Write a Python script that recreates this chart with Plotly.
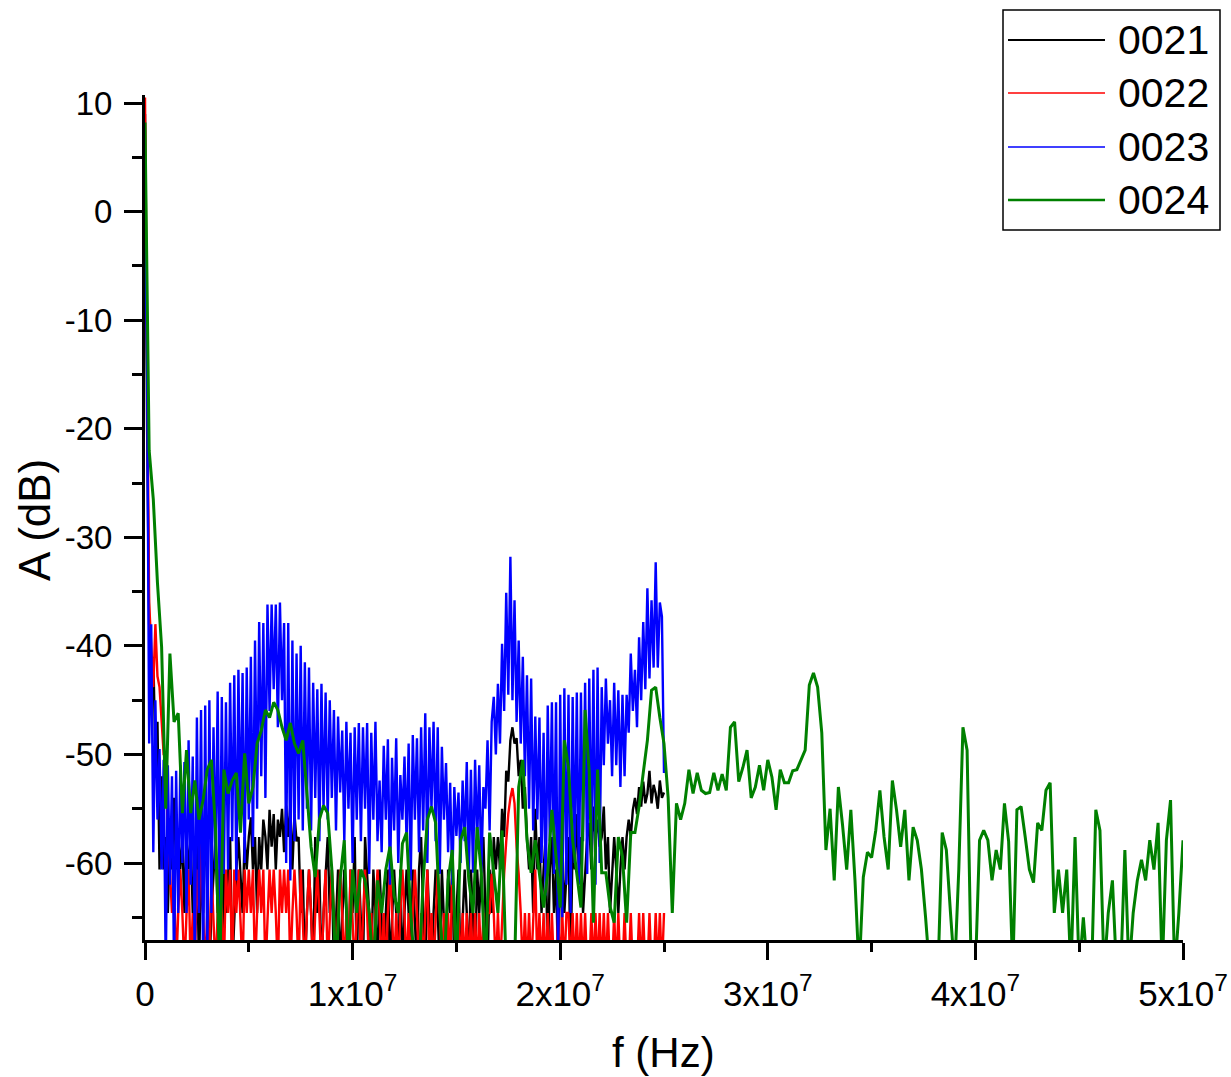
import plotly.graph_objects as go

# ---------------- data ----------------
series_names = ["0021", "0022", "0023", "0024"]
series_colors = ["#000000", "#ff0000", "#0000ff", "#008000"]

step_fine = 1e5     # Hz, spacing of 0021..0023
step_green = 2e5    # Hz, spacing of 0024

a0021 = [
    9.0, -20.0, -38.0, -45.0, -41.0, -50.0, -47.0, -60.6, -52.0, -60.6,
    -57.6, -64.6, -57.6, -60.6, -54.0, -60.6, -57.6, -60.6, -57.6, -64.6,
    -57.6, -60.6, -57.6, -64.6, -60.6, -57.6, -70, -60.6, -64.6, -57.6,
    -60.6, -70, -64.6, -60.6, -57.6, -64.6, -60.6, -70, -60.6, -64.6,
    -60.6, -57.6, -70, -64.6, -60.6, -57.6, -60.6, -64.6, -57.6, -60.6,
    -57.6, -55.8, -60.6, -57.6, -64.6, -57.6, -60.6, -56.0, -57.6, -60.6,
    -55.1, -58.5, -55.5, -60.6, -56.0, -57.6, -55.0, -59.0, -54.7, -57.6,
    -54.7, -60.6, -55.5, -58.0, -57.6, -64.6, -60.6, -70, -64.6, -60.6,
    -64.6, -70, -57.6, -64.6, -60.6, -70, -64.6, -60.6, -57.6, -64.6,
    -60.6, -70, -64.6, -60.6, -70, -64.6, -60.6, -64.6, -70, -60.6,
    -64.6, -57.6, -70, -60.6, -64.6, -70, -57.6, -60.6, -64.6, -70,
    -60.6, -64.6, -70, -60.6, -64.6, -70, -64.6, -60.6, -70, -64.6,
    -60.6, -64.6, -70, -60.6, -70, -64.6, -60.6, -64.6, -70, -60.6,
    -64.6, -70, -60.6, -57.6, -64.6, -70, -60.6, -64.6, -70, -64.6,
    -60.6, -64.6, -70, -60.6, -64.6, -70, -60.6, -64.6, -60.6, -70,
    -64.6, -60.6, -70, -64.6, -60.6, -64.6, -70, -60.6, -64.6, -70,
    -60.6, -64.6, -60.6, -57.6, -64.6, -70, -60.6, -64.6, -57.6, -60.6,
    -57.6, -60.6, -55.0, -57.6, -51.5, -52.5, -48.7, -47.5, -49.0, -48.5,
    -52.0, -50.5, -55.0, -53.0, -57.6, -60.6, -57.6, -64.6, -55.0, -60.6,
    -57.6, -64.6, -60.6, -57.6, -70, -60.6, -57.6, -64.6, -60.6, -70,
    -60.6, -57.6, -64.6, -60.6, -57.6, -70, -57.6, -60.6, -55.5, -60.6,
    -57.6, -64.6, -60.6, -57.6, -56.3, -60.6, -54.8, -57.6, -56.0, -58.5,
    -57.6, -54.8, -60.6, -57.6, -64.6, -60.6, -57.6, -60.6, -64.6, -60.6,
    -57.6, -60.6, -57.6, -56.0, -57.6, -55.1, -54.0, -55.5, -53.0, -54.8,
    -52.5, -54.5, -53.6, -51.5, -54.5, -52.8, -53.6, -55.0, -52.4, -54.0, -53.5,
]

a0022 = [
    10.5, -14.0, -36.0, -40.0, -43.8, -38.0, -42.8, -43.8, -47.0, -50.0,
    -50.2, -57.6, -60.6, -64.6, -60.6, -70, -64.6, -60.6, -64.6, -70,
    -64.6, -60.6, -70, -64.6, -70, -60.6, -64.6, -57.6, -64.6, -70,
    -64.6, -70, -60.6, -64.6, -70, -64.6, -60.6, -64.6, -70, -60.6,
    -64.6, -60.6, -70, -60.6, -64.6, -60.6, -64.6, -70, -60.6, -64.6,
    -60.6, -64.6, -60.6, -70, -64.6, -60.6, -64.6, -60.6, -70, -64.6,
    -60.6, -64.6, -60.6, -64.6, -70, -60.6, -64.6, -60.6, -64.6, -60.6,
    -70, -64.6, -60.6, -64.6, -70, -60.6, -64.6, -70, -64.6, -60.6,
    -64.6, -70, -64.6, -60.6, -64.6, -70, -64.6, -60.6, -70, -64.6,
    -60.6, -64.6, -70, -64.6, -60.6, -64.6, -70, -64.6, -70, -60.6,
    -64.6, -70, -64.6, -60.6, -70, -64.6, -60.6, -64.6, -70, -64.6,
    -70, -64.6, -60.6, -64.6, -70, -64.6, -70, -64.6, -60.6, -64.6,
    -70, -64.6, -70, -64.6, -60.6, -64.6, -70, -64.6, -70, -64.6,
    -60.6, -64.6, -70, -64.6, -70, -64.6, -60.6, -70, -64.6, -70,
    -64.6, -60.6, -64.6, -70, -64.6, -70, -64.6, -70, -60.6, -64.6,
    -70, -64.6, -70, -64.6, -70, -64.6, -70, -64.6, -70, -64.6,
    -70, -64.6, -70, -64.6, -70, -64.6, -64.6, -61.0, -64.6, -70,
    -64.6, -70, -64.6, -61.0, -58.0, -55.5, -54.0, -53.1, -54.5, -58.5,
    -61.0, -64.6, -70, -64.6, -70, -64.6, -70, -64.6, -60.6, -70,
    -64.6, -70, -64.6, -70, -64.6, -70, -64.6, -70, -70, -64.6,
    -70, -64.6, -70, -64.6, -64.6, -70, -64.6, -70, -64.6, -70,
    -64.6, -70, -64.6, -70, -70, -64.6, -70, -64.6, -70, -64.6,
    -70, -64.6, -70, -64.6, -70, -70, -64.6, -70, -64.6, -70,
    -70, -64.6, -70, -70, -64.6, -70, -70, -70, -64.6, -70,
    -64.6, -70, -70, -64.6, -70, -70, -64.6, -70, -64.6, -70, -64.6,
]

a0023 = [
    -1.5, -13.5, -49.0, -38.0, -59.0, -45.0, -56.0, -49.5, -60.6, -50.5,
    -70, -51.0, -62.0, -52.0, -70, -51.5, -64.6, -51.0, -60.0, -50.7,
    -64.6, -48.7, -62.0, -50.2, -70, -46.6, -64.6, -45.9, -70, -45.5,
    -70, -45.0, -64.6, -47.5, -60.6, -44.2, -64.6, -44.7, -61.0, -45.2,
    -60.6, -43.4, -58.0, -42.7, -61.6, -42.2, -57.0, -42.5, -60.0, -42.0,
    -56.0, -41.0, -58.5, -39.5, -55.0, -37.8, -52.0, -37.9, -54.0, -36.2,
    -46.0, -36.2, -44.0, -36.2, -47.5, -36.0, -45.0, -37.9, -60.0, -37.9,
    -61.6, -39.5, -58.0, -40.7, -56.0, -40.0, -57.0, -41.5, -55.0, -42.0,
    -57.0, -43.4, -54.0, -44.0, -58.0, -43.5, -55.0, -44.3, -56.0, -45.0,
    -54.0, -45.9, -57.0, -46.5, -53.5, -47.8, -58.0, -47.0, -55.0, -48.0,
    -60.0, -47.5, -56.0, -47.1, -58.0, -47.5, -55.0, -47.1, -61.0, -48.0,
    -56.0, -47.0, -58.0, -52.4, -59.0, -49.2, -56.0, -48.6, -62.0, -50.3,
    -57.0, -48.5, -60.0, -51.9, -56.0, -50.2, -58.0, -49.0, -61.6, -48.2,
    -56.0, -48.5, -59.0, -47.5, -57.0, -46.2, -60.0, -47.5, -55.0, -47.0,
    -58.0, -47.5, -61.0, -49.3, -56.0, -50.8, -59.0, -52.6, -62.0, -53.0,
    -57.5, -53.5, -60.0, -52.4, -58.0, -50.7, -61.0, -51.4, -60.9, -50.5,
    -58.0, -51.0, -60.9, -53.0, -55.0, -48.7, -57.0, -47.0, -44.7, -50.0,
    -43.5, -49.0, -39.8, -46.0, -35.1, -44.5, -31.8, -45.0, -35.8, -47.0,
    -39.5, -49.0, -41.0, -52.0, -42.7, -55.0, -43.0, -57.0, -46.5, -56.0,
    -46.6, -60.0, -48.0, -63.0, -45.5, -58.0, -45.2, -61.0, -45.2, -70,
    -44.5, -65.0, -43.9, -62.0, -44.5, -64.6, -44.7, -60.0, -44.3, -62.0,
    -44.3, -58.0, -43.4, -61.0, -43.0, -59.0, -42.2, -62.0, -42.0, -60.0,
    -43.8, -51.0, -43.0, -49.0, -45.0, -52.0, -43.4, -51.0, -44.1, -53.0,
    -44.5, -52.0, -44.5, -48.0, -40.7, -46.0, -42.2, -47.5, -39.2, -45.0,
    -37.8, -44.0, -34.7, -43.0, -35.8, -42.0, -32.3, -42.0, -36.0, -37.3, -51.7,
]

a0024 = [
    8.2, -22.0, -26.5, -34.2, -40.1, -55.0, -40.7, -47.0, -46.2, -55.4,
    -49.6, -55.4, -52.4, -56.0, -54.2, -51.4, -50.5, -57.0, -70, -51.4,
    -53.6, -52.4, -51.7, -57.2, -49.9, -54.5, -53.0, -49.0, -47.8, -45.9,
    -46.6, -45.2, -45.9, -47.5, -48.7, -47.1, -49.0, -49.9, -48.7, -53.6,
    -58.5, -61.3, -56.0, -54.7, -55.4, -60.6, -70, -61.5, -57.9, -70,
    -60.6, -64.6, -60.6, -61.6, -64.6, -70, -61.6, -64.6, -60.6, -58.5,
    -63.0, -64.6, -58.2, -57.2, -64.6, -70, -70, -61.6, -56.0, -54.8,
    -56.3, -64.6, -70, -61.6, -58.8, -70, -57.9, -56.7, -61.6, -64.6,
    -56.7, -60.9, -70, -57.2, -60.9, -64.6, -57.0, -70, -70, -70,
    -53.0, -50.5, -57.9, -60.9, -57.9, -60.9, -64.1, -60.9, -55.1, -59.4,
    -64.1, -48.7, -51.2, -57.9, -60.9, -64.1, -45.9, -51.7, -65.5, -51.4,
    -60.9, -60.9, -64.0, -65.5, -57.6, -59.4, -65.5, -57.2, -57.2, -54.8,
    -51.7, -48.7, -44.1, -43.8, -46.6, -49.0, -54.0, -64.6, -54.5, -56.0,
    -54.5, -51.4, -53.6, -51.7, -53.3, -53.6, -53.5, -51.7, -53.3, -51.8,
    -53.3, -47.5, -47.0, -52.5, -51.2, -49.6, -54.0, -53.0, -51.0, -53.3,
    -50.5, -52.1, -55.1, -51.4, -52.6, -52.6, -51.5, -51.4, -50.5, -49.6,
    -43.6, -42.5, -43.8, -48.0, -58.8, -55.0, -61.6, -53.0, -56.5, -60.6,
    -55.1, -61.6, -70, -61.3, -59.0, -59.5, -57.0, -53.3, -57.6, -60.6,
    -52.4, -55.1, -58.5, -55.1, -61.6, -56.7, -57.9, -60.6, -65.0, -70,
    -70, -70, -57.2, -58.8, -64.6, -70, -60.6, -47.5, -49.6, -70,
    -70, -57.9, -57.0, -57.9, -61.6, -58.8, -60.6, -54.5, -58.0, -70,
    -55.1, -54.8, -57.6, -60.6, -61.8, -56.3, -57.0, -53.3, -52.6, -64.6,
    -60.6, -64.6, -60.6, -70, -57.6, -70, -65.0, -70, -70, -55.1,
    -57.0, -70, -64.6, -61.6, -70, -70, -58.8, -70, -64.6, -61.6,
    -59.7, -61.6, -57.9, -60.6, -56.3, -70, -57.9, -54.2, -70, -64.6, -57.9,
]

x_tickvals = [0, 1e7, 2e7, 3e7, 4e7, 5e7]
x_ticktext = ["0", "1x10<sup>7</sup>", "2x10<sup>7</sup>", "3x10<sup>7</sup>",
              "4x10<sup>7</sup>", "5x10<sup>7</sup>"]
y_tickvals = [10, 0, -10, -20, -30, -40, -50, -60]
y_ticktext = ["10", "0", "-10", "-20", "-30", "-40", "-50", "-60"]

x_title = "f (Hz)"
y_title = "A (dB)"

# ---------------- figure ----------------
series_values = [a0021, a0022, a0023, a0024]
series_steps = [step_fine, step_fine, step_fine, step_green]
series_widths = [2.4, 2.4, 2.4, 3.0]
legend_widths = [2.0, 1.6, 1.6, 2.6]

FONT = "Liberation Sans, Arial, sans-serif"

fig = go.Figure()
for name, color, vals, stp, w in zip(series_names, series_colors, series_values,
                                     series_steps, series_widths):
    xs = [k * stp for k in range(len(vals))]
    fig.add_trace(go.Scatter(x=xs, y=vals, mode="lines", name=name,
                             line=dict(color=color, width=w),
                             showlegend=False))

W, H = 1231, 1077
ml, mr, mt, mb = 145, 48, 95, 137
pw, ph = W - ml - mr, H - mt - mb

def px2paper(px, py):
    return (px - ml) / pw, (H - mb - py) / ph

fig.update_layout(
    width=W, height=H, autosize=False,
    margin=dict(l=ml, r=mr, t=mt, b=mb, pad=0),
    plot_bgcolor="white", paper_bgcolor="white",
    font=dict(family=FONT, color="black", size=32),
)

fig.update_xaxes(
    range=[0, 5e7], tickmode="array", tickvals=x_tickvals, ticktext=x_ticktext,
    automargin=False,
    showgrid=False, zeroline=False, showline=True, linecolor="black", linewidth=3,
    ticks="outside", ticklen=17, tickwidth=2.7, tickcolor="black",
    tickfont=dict(size=35, family=FONT), ticklabelstandoff=4,
    minor=dict(ticks="outside", ticklen=9, tickwidth=2.7, tickcolor="black",
               dtick=5e6, tick0=0, showgrid=False),
)
fig.update_yaxes(
    range=[-67.09, 10.74], tickmode="array", tickvals=y_tickvals, ticktext=y_ticktext,
    automargin=False,
    showgrid=False, zeroline=False, showline=True, linecolor="black", linewidth=3,
    ticks="outside", ticklen=18, tickwidth=2.7, tickcolor="black",
    tickfont=dict(size=33, family=FONT), ticklabelstandoff=5,
    minor=dict(ticks="outside", ticklen=10, tickwidth=2.7, tickcolor="black",
               dtick=5, tick0=0, showgrid=False),
)

# axis titles placed where the reference has them
tx, ty = px2paper(663, 1052)
fig.add_annotation(xref="paper", yref="paper", x=tx, y=ty, text=x_title,
                   showarrow=False, xanchor="center", yanchor="middle",
                   font=dict(size=42, family=FONT, color="black"))
tx, ty = px2paper(34, 520)
fig.add_annotation(xref="paper", yref="paper", x=tx, y=ty, text=y_title,
                   showarrow=False, xanchor="center", yanchor="middle", textangle=-90,
                   font=dict(size=44, family=FONT, color="black"))

# ---------------- legend box (drawn like the original) ----------------
bx0, by0 = px2paper(1003, 230)
bx1, by1 = px2paper(1220, 10)
fig.add_shape(type="rect", xref="paper", yref="paper", x0=bx0, y0=by0, x1=bx1, y1=by1,
              line=dict(color="black", width=1.5), fillcolor="white", layer="above")
item_py = [40, 93, 147, 200]
for name, color, w, py in zip(series_names, series_colors, legend_widths, item_py):
    lx0, ly = px2paper(1008, py)
    lx1, _ = px2paper(1105, py)
    fig.add_shape(type="line", xref="paper", yref="paper", x0=lx0, x1=lx1, y0=ly, y1=ly,
                  line=dict(color=color, width=w), layer="above")
    tx, ty = px2paper(1116, py)
    fig.add_annotation(xref="paper", yref="paper", x=tx, y=ty, text=name,
                       showarrow=False, xanchor="left", yanchor="middle",
                       font=dict(size=41, family=FONT, color="black"))

# the page's default 8px body margin would shift the figure; remove it
fig.write_html("out.html",
               config={"displayModeBar": False},
               post_script="document.body.style.margin='0';document.body.style.overflow='hidden';")
